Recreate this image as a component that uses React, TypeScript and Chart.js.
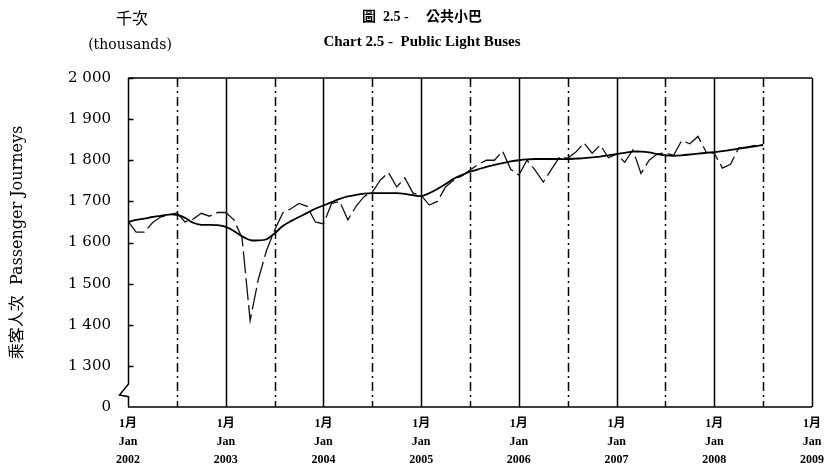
import React, { useEffect, useRef } from 'react';
import { Chart, registerables } from 'chart.js';

Chart.register(...registerables);

// ---- Data ----
const yearLabels = ['2002', '2003', '2004', '2005', '2006', '2007', '2008', '2009'];
const monthCn = '1月';
const monthEn = 'Jan';

// Monthly passenger journeys (thousands), Jan 2002 – Jul 2008
const actualJourneys = [
  1652, 1625, 1625, 1648, 1662, 1667, 1672, 1650, 1657, 1671, 1664, 1673,
  1673, 1655, 1612, 1410, 1510, 1580, 1630, 1672, 1682, 1695, 1688, 1650,
  1645, 1695, 1700, 1655, 1688, 1712, 1722, 1752, 1770, 1735, 1757, 1720,
  1715, 1691, 1700, 1735, 1752, 1762, 1776, 1790, 1800, 1800, 1822, 1778,
  1764, 1800, 1776, 1747, 1778, 1808, 1805, 1820, 1842, 1817, 1837, 1806,
  1815, 1795, 1825, 1768, 1800, 1815, 1818, 1812, 1848, 1840, 1858, 1820,
  1817, 1781, 1790, 1830, 1832, 1836, 1838,
];

// Trend
const trendJourneys = [
  1650, 1655, 1658, 1662, 1665, 1668, 1667, 1660, 1648, 1643, 1643, 1642,
  1638, 1628, 1615, 1606, 1605, 1608, 1622, 1640, 1652, 1662, 1672, 1682,
  1690, 1698, 1706, 1712, 1716, 1719, 1720, 1720, 1720, 1720, 1718, 1715,
  1713, 1720, 1730, 1742, 1755, 1764, 1772, 1778, 1784, 1789, 1793, 1797,
  1800, 1802, 1803, 1803, 1803, 1803, 1803, 1804, 1805, 1807, 1809, 1812,
  1815, 1818, 1821, 1821, 1819, 1815, 1812, 1811, 1812, 1814, 1816, 1818,
  1820, 1822, 1825, 1828, 1831, 1834, 1837,
];

const yMin = 1200; // shown as "0" (broken axis)
const yMax = 2000;
const yStep = 100;
const monthsSpan = 84; // Jan 2002 .. Jan 2009

const formatY = (v: number) => {
  if (v === yMin) return '0';
  const th = Math.floor(v / 1000);
  const rest = String(v % 1000).padStart(3, '0');
  return th + ' ' + rest;
};

const framePlugin = {
  id: 'frame',
  beforeDatasetsDraw(chart: any) {
    const { ctx, chartArea: a, scales } = chart;
    const x = scales.x;
    const y = scales.y;
    ctx.save();
    ctx.strokeStyle = '#000';
    ctx.lineWidth = 1.5;
    const line = (x1: number, y1: number, x2: number, y2: number) => {
      ctx.beginPath();
      ctx.moveTo(x1, y1);
      ctx.lineTo(x2, y2);
      ctx.stroke();
    };
    // mid-year dash-dot lines
    ctx.setLineDash([9, 4, 2, 4]);
    for (let m = 6; m < monthsSpan; m += 12) {
      const px = Math.round(x.getPixelForValue(m)) + 0.5;
      line(px, a.top, px, a.bottom);
    }
    ctx.setLineDash([]);
    // year lines (solid)
    for (let m = 12; m <= monthsSpan; m += 12) {
      const px = Math.round(x.getPixelForValue(m)) + 0.5;
      line(px, a.top, px, a.bottom);
    }
    // top & bottom
    line(a.left, a.top, a.right, a.top);
    line(a.left, a.bottom, a.right, a.bottom);
    // left axis with break
    const lx = Math.round(a.left) + 0.5;
    const b1 = y.getPixelForValue(1256);
    const b2 = y.getPixelForValue(1229);
    const b3 = y.getPixelForValue(1225);
    ctx.beginPath();
    ctx.moveTo(lx, a.top);
    ctx.lineTo(lx, b1);
    ctx.lineTo(lx - 9, b2);
    ctx.lineTo(lx, b3);
    ctx.lineTo(lx, a.bottom);
    ctx.stroke();
    // inside ticks
    for (let v = yMin + yStep; v <= yMax; v += yStep) {
      const py = Math.round(y.getPixelForValue(v)) + 0.5;
      line(lx, py, lx + 5, py);
    }
    ctx.restore();
  },
  afterDraw(chart: any) {
    const { ctx } = chart;
    ctx.save();
    ctx.fillStyle = '#000';
    ctx.textAlign = 'center';
    ctx.textBaseline = 'middle';
    ctx.font = '16px "Noto Sans CJK TC", sans-serif';
    ctx.fillText('千次', 132, 18);
    ctx.font = '14px "DejaVu Serif", serif';
    ctx.fillText('(thousands)', 130, 45);
    ctx.font = 'bold 14px "Liberation Serif", "Noto Sans CJK TC", serif';
    ctx.fillText('圖  2.5 -     公共小巴', 422, 17);
    ctx.font = 'bold 15px "Liberation Serif", serif';
    ctx.fillText('Chart 2.5 -  Public Light Buses', 422, 42);
    ctx.restore();
  },
};

export default function App() {
  const ref = useRef<HTMLCanvasElement | null>(null);

  useEffect(() => {
    if (!ref.current) return;
    const chart = new Chart(ref.current, {
      type: 'line',
      data: {
        datasets: [
          {
            label: 'Trend',
            data: trendJourneys.map((v, i) => ({ x: i, y: v })),
            borderColor: '#000',
            borderWidth: 1.8,
            pointRadius: 0,
            tension: 0.3,
            fill: false,
          },
          {
            label: 'Monthly',
            data: actualJourneys.map((v, i) => ({ x: i, y: v })),
            borderColor: '#111',
            borderWidth: 1.3,
            borderDash: [22, 5],
            pointRadius: 0,
            tension: 0,
            fill: false,
          },
        ],
      },
      options: {
        animation: false,
        responsive: true,
        maintainAspectRatio: false,
        layout: { padding: { top: 78, right: 14, bottom: 0, left: 0 } },
        plugins: {
          legend: { display: false },
          title: { display: false },
          tooltip: { enabled: false },
        },
        scales: {
          x: {
            type: 'linear',
            min: 0,
            max: monthsSpan,
            grid: { display: false, drawTicks: false },
            border: { display: false },
            afterFit: (s: any) => {
              s.height = 67;
            },
            ticks: {
              stepSize: 12,
              autoSkip: false,
              maxRotation: 0,
              padding: 8,
              color: '#000',
              font: { family: '"Liberation Serif", "Noto Sans CJK TC", serif', size: 12, weight: 'bold', lineHeight: 1.5 },
              callback: (v: any) => {
                const idx = Math.round(Number(v) / 12);
                return [monthCn, monthEn, yearLabels[idx]];
              },
            },
          },
          y: {
            type: 'linear',
            min: yMin,
            max: yMax,
            grid: { display: false, drawTicks: false },
            border: { display: false },
            afterFit: (s: any) => {
              s.width = 128;
            },
            ticks: {
              stepSize: yStep,
              padding: 17,
              color: '#000',
              font: { family: '"DejaVu Serif", serif', size: 15 },
              callback: (v: any) => formatY(Number(v)),
            },
            title: {
              display: true,
              text: '乘客人次  Passenger Journeys',
              color: '#000',
              font: { family: '"DejaVu Serif", "Noto Sans CJK TC", serif', size: 16 },
              padding: { top: 8, bottom: 0 },
            },
          },
        },
      },
      plugins: [framePlugin],
    });
    return () => chart.destroy();
  }, []);

  return (
    <div style={{ position: 'fixed', left: 0, top: 0, width: 832, height: 474, background: '#fff' }}>
      <canvas ref={ref} />
    </div>
  );
}
